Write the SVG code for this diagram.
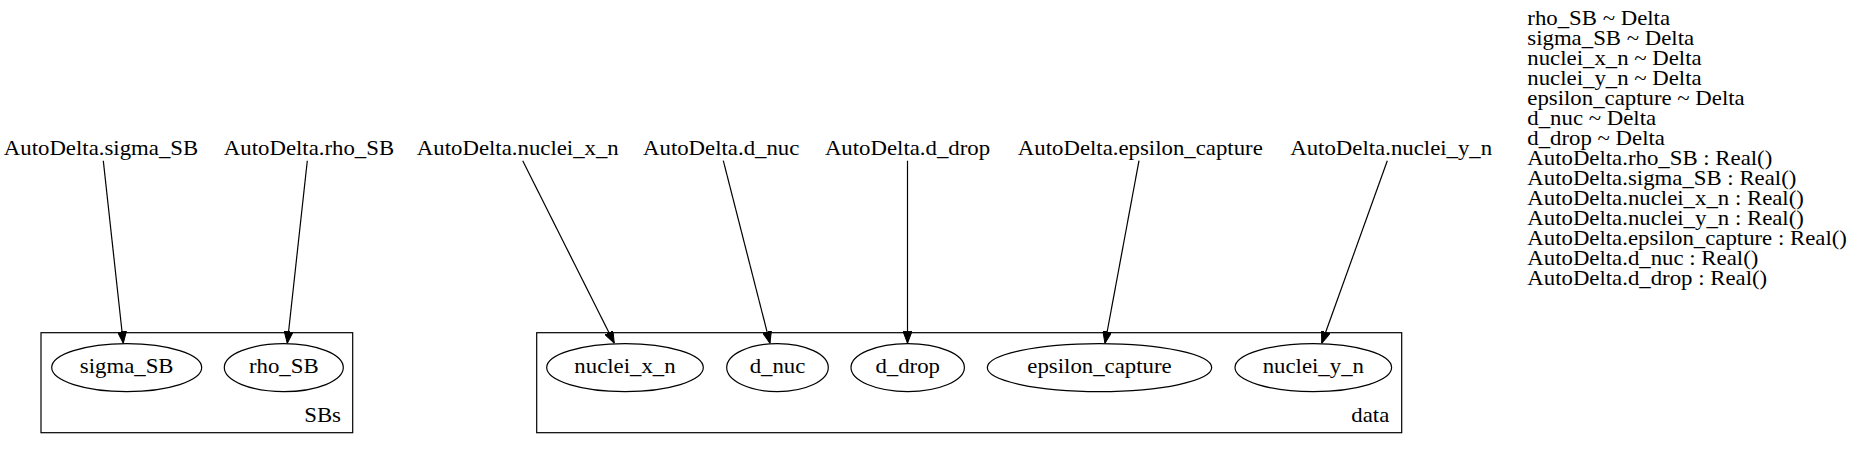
<svg xmlns="http://www.w3.org/2000/svg" width="1868" height="449" viewBox="0 0 1868 449">
<style>
text{font-family:"Liberation Serif","Times New Roman",serif;font-size:20px;fill:#000}
.c{text-anchor:middle}
.r{text-anchor:end}
.cl{fill:none;stroke:#000;stroke-width:1.2}
.n{fill:none;stroke:#000;stroke-width:1.2}
.e{fill:none;stroke:#000;stroke-width:1.2;marker-end:url(#ah)}
</style>
<defs>
<marker id="ah" viewBox="0 0 12 9" refX="12" refY="4.5" markerWidth="12" markerHeight="9" markerUnits="userSpaceOnUse" orient="auto">
<path d="M0,0 L12,4.5 L0,9 z" fill="#000" stroke="#000" stroke-width="1"/>
</marker>
</defs>
<rect width="1868" height="449" fill="#fff"/>
<g id="cluster_SBs">
<rect class="cl" x="41" y="332.7" width="311.7" height="100"/>
<text class="r" transform="translate(341,0) scale(1.14,1)" x="0" y="422.5">SBs</text>
</g>
<g id="cluster_data">
<rect class="cl" x="536.7" y="332.7" width="865" height="100"/>
<text class="r" transform="translate(1389.3,0) scale(1.14,1)" x="0" y="422.5">data</text>
</g>
<g id="node_sigma_SB"><ellipse class="n" cx="126.7" cy="367.6" rx="75" ry="24"/><text class="c" transform="translate(126.7,0) scale(1.14,1)" x="0" y="373">sigma_SB</text></g>
<g id="node_rho_SB"><ellipse class="n" cx="283.8" cy="367.6" rx="59.5" ry="24"/><text class="c" transform="translate(283.8,0) scale(1.14,1)" x="0" y="373">rho_SB</text></g>
<g id="node_nuclei_x_n"><ellipse class="n" cx="625" cy="367.6" rx="78.3" ry="24"/><text class="c" transform="translate(625,0) scale(1.14,1)" x="0" y="373">nuclei_x_n</text></g>
<g id="node_d_nuc"><ellipse class="n" cx="777.5" cy="367.6" rx="50.8" ry="24"/><text class="c" transform="translate(777.5,0) scale(1.14,1)" x="0" y="373">d_nuc</text></g>
<g id="node_d_drop"><ellipse class="n" cx="907.7" cy="367.6" rx="56.7" ry="24"/><text class="c" transform="translate(907.7,0) scale(1.14,1)" x="0" y="373">d_drop</text></g>
<g id="node_epsilon_capture"><ellipse class="n" cx="1099.5" cy="367.6" rx="112.2" ry="24"/><text class="c" transform="translate(1099.5,0) scale(1.14,1)" x="0" y="373">epsilon_capture</text></g>
<g id="node_nuclei_y_n"><ellipse class="n" cx="1313.3" cy="367.6" rx="78.3" ry="24"/><text class="c" transform="translate(1313.3,0) scale(1.14,1)" x="0" y="373">nuclei_y_n</text></g>
<g id="node_AutoDelta_sigma_SB"><text class="c" transform="translate(101,0) scale(1.14,1)" x="0" y="155">AutoDelta.sigma_SB</text></g>
<g id="node_AutoDelta_rho_SB"><text class="c" transform="translate(309,0) scale(1.14,1)" x="0" y="155">AutoDelta.rho_SB</text></g>
<g id="node_AutoDelta_nuclei_x_n"><text class="c" transform="translate(517.8,0) scale(1.14,1)" x="0" y="155">AutoDelta.nuclei_x_n</text></g>
<g id="node_AutoDelta_d_nuc"><text class="c" transform="translate(721.2,0) scale(1.14,1)" x="0" y="155">AutoDelta.d_nuc</text></g>
<g id="node_AutoDelta_d_drop"><text class="c" transform="translate(907.5,0) scale(1.14,1)" x="0" y="155">AutoDelta.d_drop</text></g>
<g id="node_AutoDelta_epsilon_capture"><text class="c" transform="translate(1140.3,0) scale(1.14,1)" x="0" y="155">AutoDelta.epsilon_capture</text></g>
<g id="node_AutoDelta_nuclei_y_n"><text class="c" transform="translate(1391.2,0) scale(1.14,1)" x="0" y="155">AutoDelta.nuclei_y_n</text></g>
<g id="connectors">
<path class="e" d="M103.3,160.7 L123.3,343.3"/>
<path class="e" d="M307.3,160.7 L287.3,343.3"/>
<path class="e" d="M522.7,160.7 L614.3,343.3"/>
<path class="e" d="M723.3,160.7 L770,343.3"/>
<path class="e" d="M907.5,160.7 L907.5,343.3"/>
<path class="e" d="M1139,160.7 L1105,343.3"/>
<path class="e" d="M1387.3,160.7 L1321.7,343.3"/>
</g>
<g id="legend" transform="translate(1527.3,0) scale(1.14,1)">
<text x="0" y="25">rho_SB ~ Delta</text>
<text x="0" y="45">sigma_SB ~ Delta</text>
<text x="0" y="65">nuclei_x_n ~ Delta</text>
<text x="0" y="85">nuclei_y_n ~ Delta</text>
<text x="0" y="105">epsilon_capture ~ Delta</text>
<text x="0" y="125">d_nuc ~ Delta</text>
<text x="0" y="145">d_drop ~ Delta</text>
<text x="0" y="165">AutoDelta.rho_SB : Real()</text>
<text x="0" y="185">AutoDelta.sigma_SB : Real()</text>
<text x="0" y="205">AutoDelta.nuclei_x_n : Real()</text>
<text x="0" y="225">AutoDelta.nuclei_y_n : Real()</text>
<text x="0" y="245">AutoDelta.epsilon_capture : Real()</text>
<text x="0" y="265">AutoDelta.d_nuc : Real()</text>
<text x="0" y="285">AutoDelta.d_drop : Real()</text>
</g>
</svg>
